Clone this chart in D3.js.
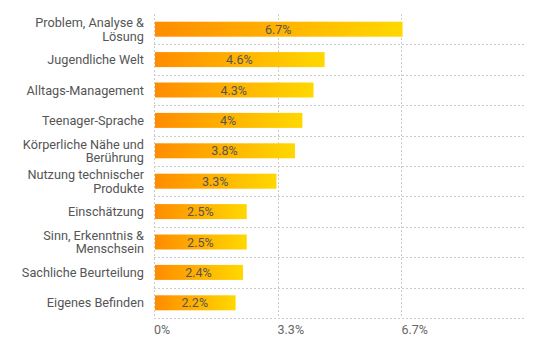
<!DOCTYPE html>
<html>
<head>
<meta charset="utf-8">
<script src="https://cdn.jsdelivr.net/npm/d3@7"></script>
<style>
  body { margin: 0; background: #fff; }
  text { font-family: Roboto, "Noto Sans", sans-serif; }
</style>
</head>
<body>
<script>
var categories = [
  "Problem, Analyse & Lösung",
  "Jugendliche Welt",
  "Alltags-Management",
  "Teenager-Sprache",
  "Körperliche Nähe und Berührung",
  "Nutzung technischer Produkte",
  "Einschätzung",
  "Sinn, Erkenntnis & Menschsein",
  "Sachliche Beurteilung",
  "Eigenes Befinden"
];
var values = [6.7, 4.6, 4.3, 4, 3.8, 3.3, 2.5, 2.5, 2.4, 2.2];
var tickValues = [0, 3.33, 6.67];
var tickLabels = ["0%", "3.3%", "6.7%"];

var w = 536, h = 351;
var margin = { top: 14, right: 11, bottom: 33, left: 154 };

var svg = d3.select("body").append("svg")
  .attr("width", w)
  .attr("height", h);

var defs = svg.append("defs");
var grad = defs.append("linearGradient")
  .attr("id", "barGrad")
  .attr("x1", "0%").attr("x2", "100%")
  .attr("y1", "0%").attr("y2", "0%");
grad.append("stop").attr("offset", "0%").attr("stop-color", "#ff8c00");
grad.append("stop").attr("offset", "100%").attr("stop-color", "#ffd800");

var x = d3.scaleLinear()
  .domain([0, 10])
  .range([margin.left, w - margin.right]);

var y = d3.scaleBand()
  .domain(categories)
  .range([margin.top, h - margin.bottom]);

// grid: vertical dotted lines
svg.selectAll("line.vgrid")
  .data(tickValues)
  .enter().append("line")
  .attr("class", "vgrid")
  .attr("x1", function (d) { return Math.round(x(d)) + 0.5; })
  .attr("x2", function (d) { return Math.round(x(d)) + 0.5; })
  .attr("y1", margin.top)
  .attr("y2", h - margin.bottom)
  .attr("stroke", "#ccc")
  .attr("stroke-width", 1)
  .attr("stroke-dasharray", "2,2");

// grid: horizontal dotted lines at band bottoms
svg.selectAll("line.hgrid")
  .data(categories)
  .enter().append("line")
  .attr("class", "hgrid")
  .attr("x1", margin.left)
  .attr("x2", w - margin.right)
  .attr("y1", function (d) { return Math.round(y(d) + y.bandwidth()) + 0.5; })
  .attr("y2", function (d) { return Math.round(y(d) + y.bandwidth()) + 0.5; })
  .attr("stroke", "#ccc")
  .attr("stroke-width", 1)
  .attr("stroke-dasharray", "2,2");

// bars
var barH = 15;
svg.selectAll("rect.bar")
  .data(values)
  .enter().append("rect")
  .attr("class", "bar")
  .attr("x", x(0) + 1)
  .attr("y", function (d, i) { return y(categories[i]) + y.bandwidth() / 2 - barH / 2; })
  .attr("width", function (d) { return x(d) - x(0) - 1; })
  .attr("height", barH)
  .attr("fill", "url(#barGrad)");

// value labels
svg.selectAll("text.val")
  .data(values)
  .enter().append("text")
  .attr("class", "val")
  .attr("x", function (d) { return (x(0) + x(d)) / 2; })
  .attr("y", function (d, i) { return y(categories[i]) + y.bandwidth() / 2; })
  .attr("dy", "0.36em")
  .attr("text-anchor", "middle")
  .attr("font-size", 12.5)
  .attr("fill", "#555")
  .text(function (d) { return d + "%"; });

// category labels, wrapped
var maxW = 132;
categories.forEach(function (c) {
  var t = svg.append("text")
    .attr("x", margin.left - 10)
    .attr("text-anchor", "end")
    .attr("font-size", 12.7)
    .attr("fill", "#555");
  var words = c.split(" ");
  var lines = [];
  var line = [];
  var probe = t.append("tspan");
  words.forEach(function (wd) {
    line.push(wd);
    probe.text(line.join(" "));
    if (probe.node().getComputedTextLength() > maxW && line.length > 1) {
      line.pop();
      lines.push(line.join(" "));
      line = [wd];
    }
  });
  lines.push(line.join(" "));
  probe.remove();
  var lh = 13.5;
  var cy = y(c) + y.bandwidth() / 2 - (lines.length - 1) * lh / 2;
  lines.forEach(function (l, k) {
    t.append("tspan")
      .attr("x", margin.left - 10)
      .attr("y", cy + k * lh)
      .attr("dy", "0.36em")
      .text(l);
  });
});

// x tick labels
svg.selectAll("text.tick")
  .data(tickValues)
  .enter().append("text")
  .attr("class", "tick")
  .attr("x", function (d) { return x(d); })
  .attr("y", 334)
  .attr("font-size", 12.5)
  .attr("fill", "#666")
  .text(function (d, i) { return tickLabels[i]; });
</script>
</body>
</html>
